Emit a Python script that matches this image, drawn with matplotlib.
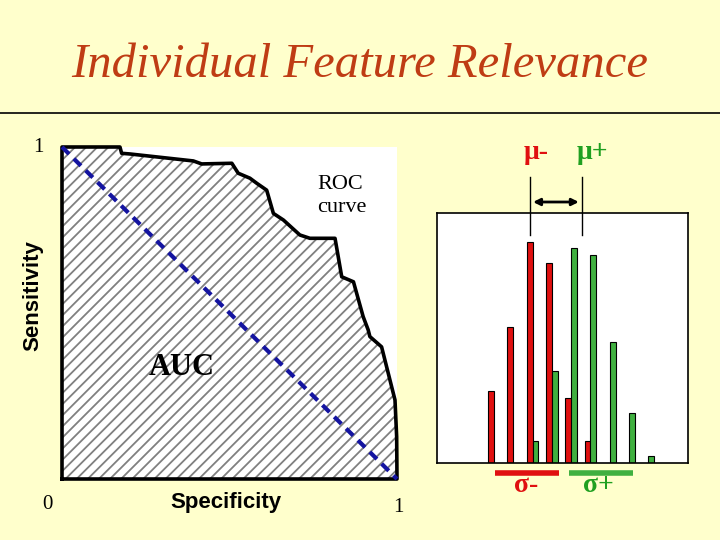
import matplotlib.pyplot as plt

# ROC curve (specificity axis runs 0 -> 1 left to right)
roc_x = [0.0, 0.173, 0.178, 0.203, 0.392, 0.417, 0.507, 0.526, 0.561, 0.581,
         0.611, 0.631, 0.661, 0.710, 0.740, 0.815, 0.835, 0.870, 0.899, 0.914,
         0.919, 0.954, 0.974, 0.994, 0.999, 1.0]
roc_y = [1.0, 1.0, 0.981, 0.979, 0.958, 0.949, 0.951, 0.921, 0.906, 0.891,
         0.870, 0.800, 0.780, 0.735, 0.725, 0.725, 0.609, 0.594, 0.489, 0.449,
         0.429, 0.398, 0.318, 0.238, 0.127, 0.0]

# histograms of the two classes
neg_bins = [3, 4, 5, 6, 7, 8]
neg_counts = [7.2, 13.6, 22.1, 20.0, 6.5, 2.2]
pos_bins = [5, 6, 7, 8, 9, 10, 11]
pos_counts = [2.2, 9.2, 21.5, 20.8, 12.1, 5.0, 0.7]

mu_neg, mu_pos = 5.03, 7.69
sigma_neg = (3.2, 6.52)
sigma_pos = (7.04, 10.35)

bg = '#FFFFCC'
red = '#E01010'
green = '#40B040'

plt.rcParams['hatch.linewidth'] = 1.3
plt.rcParams['hatch.color'] = '#808080'

fig = plt.figure(figsize=(7.2, 5.4), dpi=100, facecolor=bg)

fig.text(0.5, 0.88, 'Individual Feature Relevance', ha='center', va='center',
         fontsize=35, style='italic', family='Liberation Serif', color='#BF3C14')
fig.add_artist(plt.Line2D([0, 1], [0.791, 0.791], color='black', lw=1.2))

# ---- ROC panel ----
ax = fig.add_axes([62 / 720, 61 / 540, 335 / 720, 332 / 540])
ax.set_facecolor('white')
ax.set_xlim(0, 1)
ax.set_ylim(0, 1)
for s in ax.spines.values():
    s.set_visible(False)
ax.set_xticks([])
ax.set_yticks([])

px = [0.0] + roc_x + [0.0]
py = [0.0] + roc_y + [0.0]
ax.fill(px, py, facecolor='white', edgecolor='#808080', hatch='///', lw=0)
ax.plot(px, py, color='black', lw=2.6, clip_on=False, solid_joinstyle='round')
ax.plot([0, 1], [1, 0], color='#1414A0', lw=3, ls=(0, (2.4, 1.6)), clip_on=False)

serif = 'Liberation Serif'
sans = 'Liberation Sans'
ax.text(-0.072, 0.997, '1', ha='center', va='center', fontsize=15, family=serif)
ax.text(-0.042, -0.078, '0', ha='center', va='center', fontsize=15, family=serif)
ax.text(1.003, -0.087, '1', ha='center', va='center', fontsize=15, family=serif)
ax.text(-0.087, 0.554, 'Sensitivity', rotation=90, ha='center', va='center',
        fontsize=16, fontweight='bold', family=sans)
ax.text(0.49, -0.072, 'Specificity', ha='center', va='center',
        fontsize=16, fontweight='bold', family=sans)
ax.text(0.763, 0.853, 'ROC\ncurve', ha='left', va='center', fontsize=16,
        family=serif, linespacing=1.25)
ax.text(0.358, 0.337, 'AUC', ha='center', va='center', fontsize=22,
        fontweight='bold', family=serif)

# ---- histogram panel ----
hx = fig.add_axes([437 / 720, 77 / 540, 251 / 720, 250 / 540])
hx.set_facecolor('white')
hx.set_xlim(0.2, 13.2)
hx.set_ylim(0, 25)
hx.set_xticks([])
hx.set_yticks([])
for s in hx.spines.values():
    s.set_linewidth(1.2)

w = 0.3
hx.bar(neg_bins, neg_counts, width=w, color=red, edgecolor='black', lw=0.8)
hx.bar([b + w for b in pos_bins], pos_counts, width=w, color=green,
       edgecolor='black', lw=0.8)

for m in (mu_neg, mu_pos):
    hx.plot([m, m], [22.8, 28.6], color='black', lw=1, clip_on=False)
hx.annotate('', xy=(mu_neg, 26.1), xytext=(mu_pos, 26.1),
            arrowprops=dict(arrowstyle='<|-|>', color='black', lw=2,
                            mutation_scale=10), annotation_clip=False)
hx.text(mu_neg + 0.3, 31.0, 'μ-', ha='center', va='center', fontsize=20,
        color=red, family=serif, fontweight='bold')
hx.text(mu_pos + 0.57, 31.0, 'μ+', ha='center', va='center', fontsize=20,
        color='#20A020', family=serif, fontweight='bold')

hx.plot(sigma_neg, [-1.0, -1.0], color=red, lw=4, clip_on=False,
        solid_capstyle='butt')
hx.plot(sigma_pos, [-1.0, -1.0], color=green, lw=4, clip_on=False,
        solid_capstyle='butt')
hx.text(4.8, -2.3, 'σ-', ha='center', va='center', fontsize=20,
        color=red, family=serif, fontweight='bold')
hx.text(8.55, -2.3, 'σ+', ha='center', va='center', fontsize=20,
        color='#20A020', family=serif, fontweight='bold')

fig.savefig('out.png', dpi=100, facecolor=bg)
